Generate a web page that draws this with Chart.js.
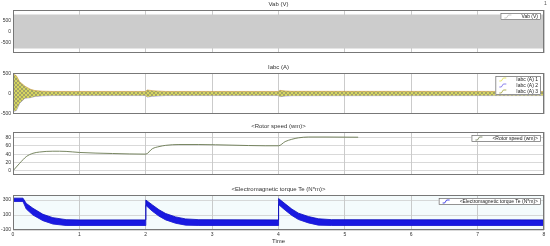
<!DOCTYPE html>
<html lang="en">
<head>
<meta charset="UTF-8">
<title>Scope</title>
<script src="https://cdn.jsdelivr.net/npm/chart.js"></script>
<style>
  body { margin: 0; background: #fff; }
  #wrap { position: relative; width: 550px; height: 246px; font-family: "Liberation Sans", Arial, sans-serif; }
  #wrap canvas { position: absolute; left: 0; }
  #corner { position: absolute; left: 544px; top: 0; font-size: 5px; color: #555; }
</style>
</head>
<body>
<div id="wrap">
  <canvas id="vab" width="550" height="58" style="top:0px"></canvas>
  <canvas id="iabc" width="550" height="56" style="top:63px"></canvas>
  <canvas id="speed" width="550" height="58" style="top:122px"></canvas>
  <canvas id="torque" width="550" height="61" style="top:185px"></canvas>
  <div id="corner">1</div>
</div>
<script>
// time axis
const timeTicks = [0, 1, 2, 3, 4, 5, 6, 7, 8];

// Vab (V): dense 50 Hz wave, drawn as its envelope
const vabT  = [0, 8];
const vabHi = [790, 790];
const vabLo = [-790, -790];

// Iabc (A): envelope of the three phase currents
const iabcT  = [0, 0.02, 0.05, 0.1, 0.18, 0.26, 0.33, 0.45, 0.6, 2.0, 2.02, 2.1, 2.2, 2.3, 4.0, 4.02, 4.1, 4.2, 8];
const iabcHi = [500, 480, 450, 300, 185, 110, 75, 58, 52, 52, 90, 72, 60, 52, 52, 80, 64, 55, 52];
const iabcLo = [-320, -450, -430, -250, -120, -105, -75, -58, -52, -52, -90, -72, -60, -52, -52, -80, -64, -55, -52];

// <Rotor speed (wm)>
const speedT = [0, 0.1, 0.2, 0.3, 0.4, 0.5, 0.6, 0.8, 1.0, 1.5, 2.0, 2.1, 2.2, 2.3, 2.5, 2.8, 3.3, 3.8, 4.0, 4.1, 4.2, 4.3, 4.45, 4.7, 5.2];
const speedV = [0, 18, 34, 42, 45, 46.5, 47, 46.5, 44, 41.5, 40, 53, 58, 61, 63, 63, 61.5, 60, 60, 70, 75.5, 79, 81, 81, 80.5];

// <Electromagnetic torque Te (N*m)>: envelope of the ripple band
const teT  = [0, 0.15, 0.2, 0.3, 0.45, 0.6, 0.8, 1.0, 2.0, 2.001, 2.1, 2.2, 2.3, 2.45, 2.6, 2.8, 4.0, 4.001, 4.1, 4.2, 4.3, 4.45, 4.6, 4.8, 8];
const teHi = [325, 325, 255, 190, 110, 65, 38, 35, 35, 300, 235, 170, 120, 75, 48, 38, 35, 320, 250, 180, 125, 80, 50, 38, 35];
const teLo = [280, 280, 180, 100, 25, -20, -40, -40, -40, 230, 150, 85, 35, -10, -35, -40, -40, 240, 165, 95, 40, -5, -35, -40, -40];

// y tick labels per panel
const vabTicks = [-500, 0, 500];
const iabcTicks = [-500, 0, 500];
const speedTicks = [0, 20, 40, 60, 80];
const teTicks = [-100, 0, 100, 200, 300];

const FONT = '"Liberation Sans", Arial, sans-serif';

function pts(xs, ys) {
  return xs.map((x, i) => ({ x: x, y: ys[i] }));
}

// diamond texture for the current band
function beadPattern() {
  const c = document.createElement('canvas');
  c.width = 4; c.height = 4;
  const g = c.getContext('2d');
  g.fillStyle = 'rgb(214,214,96)';
  g.fillRect(0, 0, 4, 4);
  g.strokeStyle = 'rgb(150,150,105)';
  g.lineWidth = 0.8;
  g.beginPath();
  g.moveTo(0, 0); g.lineTo(4, 4);
  g.moveTo(0, 4); g.lineTo(4, 0);
  g.stroke();
  return g.createPattern(c, 'repeat');
}

// title, frame and boxed legend drawn like the scope window
const scopeDecor = {
  id: 'scopeDecor',
  beforeDraw(chart, args, opts) {
    const a = chart.chartArea;
    const ctx = chart.ctx;
    if (opts.bg) {
      ctx.save();
      ctx.fillStyle = opts.bg;
      ctx.fillRect(a.left, a.top, a.right - a.left, a.bottom - a.top);
      ctx.restore();
    }
  },
  afterDraw(chart, args, opts) {
    const a = chart.chartArea;
    const ctx = chart.ctx;
    ctx.save();
    ctx.strokeStyle = '#777';
    ctx.lineWidth = 1;
    ctx.strokeRect(a.left + 0.5, a.top + 0.5, a.right - a.left - 1, a.bottom - a.top - 1);

    ctx.fillStyle = '#333';
    ctx.font = '6px ' + FONT;
    ctx.textAlign = 'center';
    ctx.textBaseline = 'middle';
    ctx.fillText(opts.title, (a.left + a.right) / 2, a.top - 6);

    const items = opts.legend || [];
    ctx.font = '5px ' + FONT;
    let tw = 0;
    items.forEach(it => { tw = Math.max(tw, ctx.measureText(it.text).width); });
    const w = Math.max(tw + 24, 36);
    const rowH = 6;
    const h = items.length * rowH + 1;
    const x0 = a.right - 3 - w;
    const y0 = a.top + 3;
    ctx.fillStyle = '#fff';
    ctx.fillRect(x0, y0, w, h);
    ctx.strokeStyle = '#666';
    ctx.lineWidth = 0.7;
    ctx.strokeRect(x0 + 0.5, y0 + 0.5, w - 1, h - 1);
    items.forEach((it, i) => {
      const cy = y0 + 0.5 + rowH * (i + 0.5);
      ctx.strokeStyle = it.color;
      ctx.lineWidth = 0.8;
      ctx.beginPath();
      ctx.moveTo(x0 + 4, cy + 1.5);
      ctx.lineTo(x0 + 6, cy + 1.5);
      ctx.lineTo(x0 + 8, cy - 1.5);
      ctx.lineTo(x0 + 11, cy - 1.5);
      ctx.stroke();
      ctx.fillStyle = '#222';
      ctx.textAlign = 'right';
      ctx.fillText(it.text, x0 + w - 3, cy);
    });
    ctx.restore();
  }
};

function makePanel(id, datasets, yMin, yMax, yTicks, decor, showX) {
  return new Chart(document.getElementById(id), {
    type: 'line',
    data: { datasets: datasets },
    options: {
      responsive: false,
      animation: false,
      events: [],
      parsing: false,
      layout: { padding: { top: 10, right: 6, left: 0, bottom: 0 } },
      elements: { point: { radius: 0 } },
      plugins: {
        legend: { display: false },
        tooltip: { enabled: false },
        scopeDecor: decor
      },
      scales: {
        x: {
          type: 'linear',
          min: 0,
          max: 8,
          afterBuildTicks: s => { s.ticks = timeTicks.map(v => ({ value: v })); },
          afterFit: s => { s.height = showX ? 16 : 0; },
          border: { display: false },
          grid: { color: '#b4b4b4', lineWidth: 0.7, drawTicks: false },
          ticks: {
            display: showX,
            font: { size: 5, family: FONT },
            color: '#333',
            padding: 2,
            maxRotation: 0
          },
          title: {
            display: showX,
            text: 'Time',
            font: { size: 6, family: FONT },
            color: '#333',
            padding: { top: 0, bottom: 1 }
          }
        },
        y: {
          min: yMin,
          max: yMax,
          afterBuildTicks: s => { s.ticks = yTicks.map(v => ({ value: v })); },
          afterFit: s => { s.width = 13; },
          border: { display: false },
          grid: { color: '#c8c8c8', lineWidth: 0.7, drawTicks: false },
          ticks: {
            font: { size: 5, family: FONT },
            color: '#333',
            padding: 2
          }
        }
      }
    },
    plugins: [scopeDecor]
  });
}

makePanel('vab', [
  { label: 'Vab (V)', data: pts(vabT, vabHi), borderWidth: 0, backgroundColor: 'rgb(204,204,204)', fill: '+1' },
  { label: 'vab-lo', data: pts(vabT, vabLo), borderWidth: 0, fill: false }
], -1000, 1000, vabTicks, {
  title: 'Vab (V)',
  legend: [{ text: 'Vab (V)', color: '#bbb' }]
}, false);

makePanel('iabc', [
  { label: 'Iabc (A)', data: pts(iabcT, iabcHi), borderWidth: 0.6, borderColor: 'rgb(200,150,60)', backgroundColor: beadPattern(), fill: '+1' },
  { label: 'iabc-lo', data: pts(iabcT, iabcLo), borderWidth: 0.6, borderColor: 'rgb(130,120,200)', fill: false }
], -520, 520, iabcTicks, {
  title: 'Iabc (A)',
  legend: [
    { text: 'Iabc (A) 1', color: 'rgb(220,220,70)' },
    { text: 'Iabc (A) 2', color: 'rgb(110,100,230)' },
    { text: 'Iabc (A) 3', color: 'rgb(160,160,50)' }
  ]
}, false);

makePanel('speed', [
  { label: '<Rotor speed (wm)>', data: pts(speedT, speedV), borderWidth: 0.9, borderColor: 'rgb(105,120,80)', fill: false, cubicInterpolationMode: 'monotone' }
], -10, 93, speedTicks, {
  title: '<Rotor speed (wm)>',
  legend: [{ text: '<Rotor speed (wm)>', color: 'rgb(105,120,80)' }]
}, false);

makePanel('torque', [
  { label: '<Electromagnetic torque Te (N*m)>', data: pts(teT, teHi), borderWidth: 0.8, borderColor: 'rgb(10,10,190)', backgroundColor: 'rgb(25,25,225)', fill: '+1' },
  { label: 'te-lo', data: pts(teT, teLo), borderWidth: 0.8, borderColor: 'rgb(10,10,190)', fill: false }
], -100, 367, teTicks, {
  title: '<Electromagnetic torque Te (N*m)>',
  bg: 'rgb(244,251,252)',
  legend: [{ text: '<Electromagnetic torque Te (N*m)>', color: 'rgb(25,25,225)' }]
}, true);
</script>
</body>
</html>
